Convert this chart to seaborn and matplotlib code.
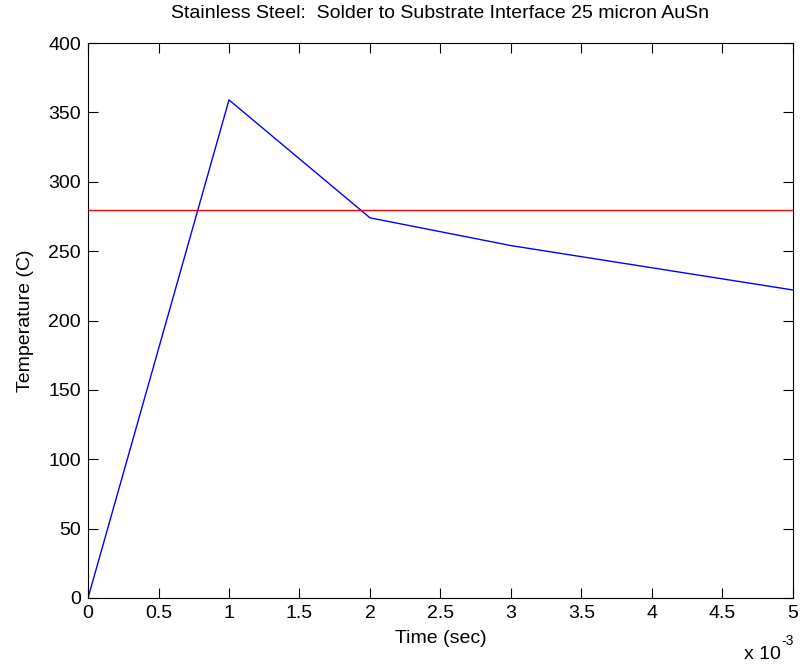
import numpy as np
import pandas as pd
import matplotlib
matplotlib.use("Agg")
import matplotlib.pyplot as plt
import seaborn as sns

# Interface temperature history
time_ms = [0, 1, 2, 3, 4, 5]
temperature_c = [0, 359, 274, 254, 238, 222]
melt_temp_c = 280

sns.set_theme(style="white")
plt.rcParams["font.family"] = ["Liberation Sans", "DejaVu Sans"]
plt.rcParams["text.color"] = "black"
plt.rcParams["axes.labelcolor"] = "black"

df = pd.DataFrame({"time": np.array(time_ms) * 1e-3, "temp": temperature_c})

fig = plt.figure(figsize=(8.03, 6.68), dpi=100)
ax = fig.add_axes([0.1096, 0.1048, 0.8779, 0.8308])

sns.lineplot(data=df, x="time", y="temp", ax=ax, color="blue", linewidth=1.0)
ax.axhline(melt_temp_c, color="red", linewidth=1.0)

ax.set_xlim(0, 5e-3)
ax.set_ylim(0, 400)
ax.set_xticks(np.arange(0, 5.01e-3, 0.5e-3))
ax.set_xticklabels(["0", "0.5", "1", "1.5", "2", "2.5", "3", "3.5", "4", "4.5", "5"])
ax.set_yticks(np.arange(0, 401, 50))

ax.tick_params(direction="in", length=7, width=0.8, top=True, right=True,
               bottom=True, left=True, labelsize=14, colors="black")
ax.tick_params(axis="x", pad=5)
ax.tick_params(axis="y", pad=5)
for s in ax.spines.values():
    s.set_color("black")
    s.set_linewidth(0.8)

ax.set_xlabel("Time (sec)", fontsize=14, labelpad=6, color="black")
ax.set_ylabel("Temperature (C)", fontsize=14, labelpad=10, color="black")
ax.set_title("Stainless Steel:  Solder to Substrate Interface 25 micron AuSn",
             fontsize=14, pad=18, color="black")

# scale factor for the time axis
fig.text(0.972, 0.008, "x 10", ha="right", va="bottom", fontsize=14, color="black")
fig.text(0.973, 0.030, "-3", ha="left", va="bottom", fontsize=10, color="black")

fig.savefig("out.png", dpi=100, facecolor="white")
